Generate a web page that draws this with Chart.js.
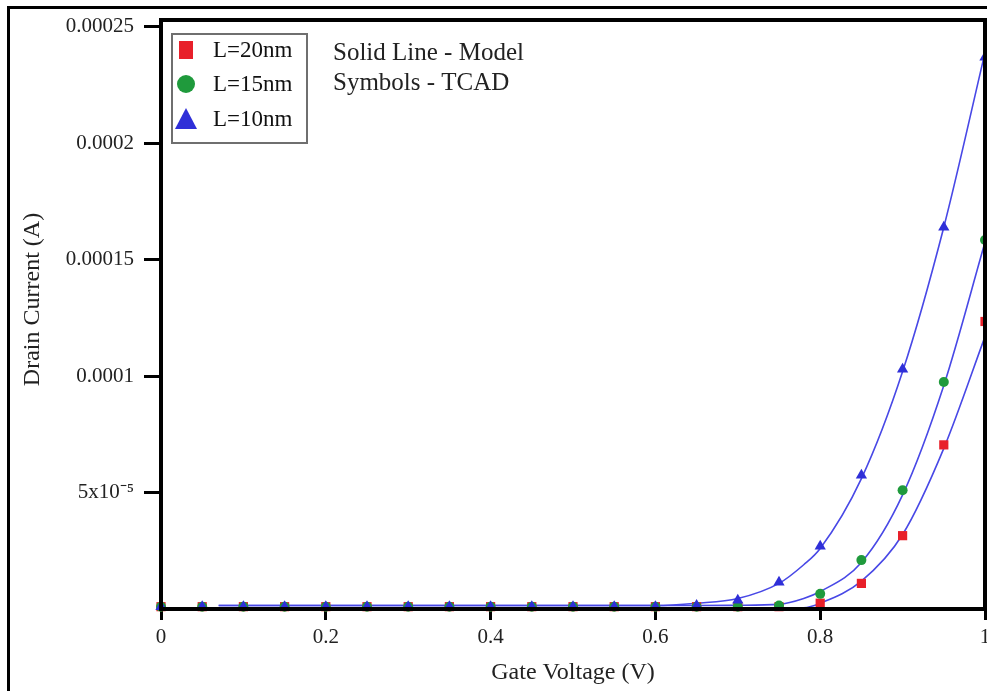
<!DOCTYPE html>
<html>
<head>
<meta charset="utf-8">
<script src="https://cdn.jsdelivr.net/npm/chart.js@4.4.1/dist/chart.umd.min.js"></script>
<style>
  html, body { margin: 0; padding: 0; background: #fff; }
  #wrap { position: relative; width: 987px; height: 691px; overflow: hidden; }
  #frame { position: absolute; left: 7px; top: 6px; width: 1000px; height: 700px;
           border-left: 3px solid #000; border-top: 3px solid #000; }
  canvas { position: absolute; left: 0; top: 0; }
</style>
</head>
<body>
<div id="wrap">
  <div id="frame"></div>
  <canvas id="c" width="987" height="691"></canvas>
</div>
<script>
// ---- data ----
const seriesNames = ["L=20nm", "L=15nm", "L=10nm"];
const tcadX = [0, 0.05, 0.1, 0.15, 0.2, 0.25, 0.3, 0.35, 0.4, 0.45, 0.5, 0.55, 0.6, 0.65, 0.7, 0.75, 0.8, 0.85, 0.9, 0.95, 1.0];
const tcad20 = [1e-6, 1e-6, 1e-6, 1e-6, 1e-6, 1e-6, 1e-6, 1e-6, 1e-6, 1e-6, 1e-6, 1e-6, 1e-6, 1e-6, 1e-6, 1e-6, 2.5e-6, 1.1e-5, 3.15e-5, 7.05e-5, 1.235e-4];
const tcad15 = [1e-6, 1e-6, 1e-6, 1e-6, 1e-6, 1e-6, 1e-6, 1e-6, 1e-6, 1e-6, 1e-6, 1e-6, 1e-6, 1e-6, 1e-6, 1.5e-6, 6.5e-6, 2.1e-5, 5.1e-5, 9.75e-5, 1.585e-4];
const tcad10 = [1e-6, 1e-6, 1e-6, 1e-6, 1e-6, 1e-6, 1e-6, 1e-6, 1e-6, 1e-6, 1e-6, 1e-6, 1e-6, 1.5e-6, 3.8e-6, 1.15e-5, 2.7e-5, 5.75e-5, 1.03e-4, 1.64e-4, 2.37e-4];
const modelX = [0.07, 0.6, 0.65, 0.7, 0.75, 0.78, 0.8, 0.85, 0.9, 0.95, 1.0];
const model20 = [0.3e-6, 0.3e-6, 0.3e-6, 0.3e-6, 0.3e-6, 0.5e-6, 2.5e-6, 1.2e-5, 3.2e-5, 6.9e-5, 1.17e-4];
const model15 = [1.5e-6, 1.5e-6, 1.5e-6, 1.6e-6, 2.0e-6, 4.5e-6, 7.5e-6, 2.0e-5, 4.9e-5, 9.6e-5, 1.575e-4];
const model10 = [1.5e-6, 1.5e-6, 2.5e-6, 4.5e-6, 1.1e-5, 1.9e-5, 2.6e-5, 5.6e-5, 1.02e-4, 1.64e-4, 2.39e-4];
const xTickValues = [0, 0.2, 0.4, 0.6, 0.8, 1];
const xTickLabels = ["0", "0.2", "0.4", "0.6", "0.8", "1"];
const yTickValues = [0, 5e-5, 1e-4, 1.5e-4, 2e-4, 2.5e-4];
const yTickLabels = ["", "5x10\u207B\u2075", "0.0001", "0.00015", "0.0002", "0.00025"];
const yMax = 2.53e-4;
const noteLines = ["Solid Line - Model", "Symbols - TCAD"];

// ---- styles ----
const markerColors = ["#e8202a", "#1f9a3c", "#2f2fd8"];
const markerStyles = ["rect", "circle", "triangle"];
const markerRadius = [6.5, 5, 6.5];
const lineColor = "#4848e6";
const SERIF = "'Liberation Serif', 'Times New Roman', serif";
const PLOT_RIGHT = 985;

function pts(xs, ys) { return xs.map((x, i) => ({ x: x, y: ys[i] })); }
function nearestLabel(v, vals, labels) {
  let best = -1, bd = Infinity;
  vals.forEach((t, i) => { const d = Math.abs(t - v); if (d < bd) { bd = d; best = i; } });
  return bd < 1e-9 + Math.abs(v) * 1e-6 ? labels[best] : null;
}

const tcadData = [tcad20, tcad15, tcad10];
const modelData = [model20, model15, model10];
const datasets = [];
modelData.forEach((m, i) => {
  datasets.push({
    label: "Model " + seriesNames[i], data: pts(modelX, m), showLine: true,
    borderColor: lineColor, borderWidth: 1.6, pointRadius: 0,
    cubicInterpolationMode: "monotone", order: 5, clip: false
  });
});
tcadData.forEach((t, i) => {
  datasets.push({
    label: seriesNames[i], data: pts(tcadX, t), showLine: false,
    pointStyle: markerStyles[i], pointRadius: markerRadius[i],
    backgroundColor: markerColors[i], borderColor: markerColors[i], borderWidth: 0,
    order: 3 - i, clip: false
  });
});

const stretchPlugin = {
  id: "stretch",
  afterLayout(chart) {
    const x = chart.scales.x;
    chart.chartArea.right = PLOT_RIGHT;
    chart.chartArea.width = PLOT_RIGHT - chart.chartArea.left;
    x.right = PLOT_RIGHT;
    x.width = x.right - x.left;
    x.configure();
  }
};

const framePlugin = {
  id: "frame",
  afterDatasetsDraw(chart) {
    const { ctx, chartArea: a } = chart;
    ctx.save();
    ctx.strokeStyle = "#000";
    ctx.lineWidth = 4;
    ctx.strokeRect(a.left, a.top, a.right - a.left, a.bottom - a.top);
    // legend box
    const lx = 172, ly = 34, lw = 135, lh = 109;
    ctx.fillStyle = "#fff";
    ctx.fillRect(lx, ly, lw, lh);
    ctx.strokeStyle = "#6f6f6f";
    ctx.lineWidth = 2;
    ctx.strokeRect(lx, ly, lw, lh);
    const rows = [50, 84, 119];
    ctx.font = "23px " + SERIF;
    ctx.textBaseline = "middle";
    ctx.textAlign = "left";
    rows.forEach((ry, i) => {
      ctx.fillStyle = markerColors[i];
      const cx = 186;
      if (i === 0) {
        ctx.fillRect(cx - 7, ry - 9, 14, 18);
      } else if (i === 1) {
        ctx.beginPath(); ctx.arc(cx, ry, 9, 0, Math.PI * 2); ctx.fill();
      } else {
        ctx.beginPath();
        ctx.moveTo(cx, ry - 11); ctx.lineTo(cx + 11, ry + 10); ctx.lineTo(cx - 11, ry + 10);
        ctx.closePath(); ctx.fill();
      }
      ctx.fillStyle = "#111";
      ctx.fillText(seriesNames[i], 213, ry + 1);
    });
    // note text
    ctx.fillStyle = "#222";
    ctx.font = "25px " + SERIF;
    noteLines.forEach((t, i) => ctx.fillText(t, 333, 53 + i * 30));
    ctx.restore();
  }
};

new Chart(document.getElementById("c"), {
  type: "scatter",
  data: { datasets: datasets },
  plugins: [stretchPlugin, framePlugin],
  options: {
    responsive: false,
    animation: false,
    devicePixelRatio: 1,
    layout: { padding: { top: 20, right: 2, left: 0, bottom: 0 } },
    plugins: { legend: { display: false }, tooltip: { enabled: false } },
    scales: {
      x: {
        type: "linear", min: 0, max: 1,
        afterFit(s) { s.height = 82; s.paddingLeft = 0; s.paddingRight = 0; },
        afterBuildTicks(s) { s.ticks = xTickValues.map(v => ({ value: v })); },
        grid: { drawOnChartArea: false, tickLength: 11, tickWidth: 3, tickColor: "#000" },
        border: { display: true, color: "#000", width: 4 },
        ticks: {
          padding: 5, color: "#222", font: { family: SERIF, size: 21 },
          maxRotation: 0, autoSkip: false,
          callback: v => nearestLabel(v, xTickValues, xTickLabels)
        },
        title: { display: true, text: "Gate Voltage (V)", color: "#222",
                 font: { family: SERIF, size: 24 }, padding: { top: 0, bottom: 4 } }
      },
      y: {
        type: "linear", min: 0, max: yMax,
        afterFit(s) { s.width = 161; s.paddingTop = 0; s.paddingBottom = 0; },
        afterBuildTicks(s) { s.ticks = yTickValues.map(v => ({ value: v })); },
        grid: { drawOnChartArea: false, tickLength: 17, tickWidth: 3, tickColor: "#000" },
        border: { display: true, color: "#000", width: 4 },
        ticks: {
          padding: 10, color: "#222", font: { family: SERIF, size: 21 }, autoSkip: false,
          callback: v => { const l = nearestLabel(v, yTickValues, yTickLabels); return l === "" ? null : l; }
        },
        title: { display: true, text: "     Drain Current (A)", color: "#222",
                 font: { family: SERIF, size: 24 }, padding: { top: 18, bottom: 0 } }
      }
    }
  }
});
</script>
</body>
</html>
